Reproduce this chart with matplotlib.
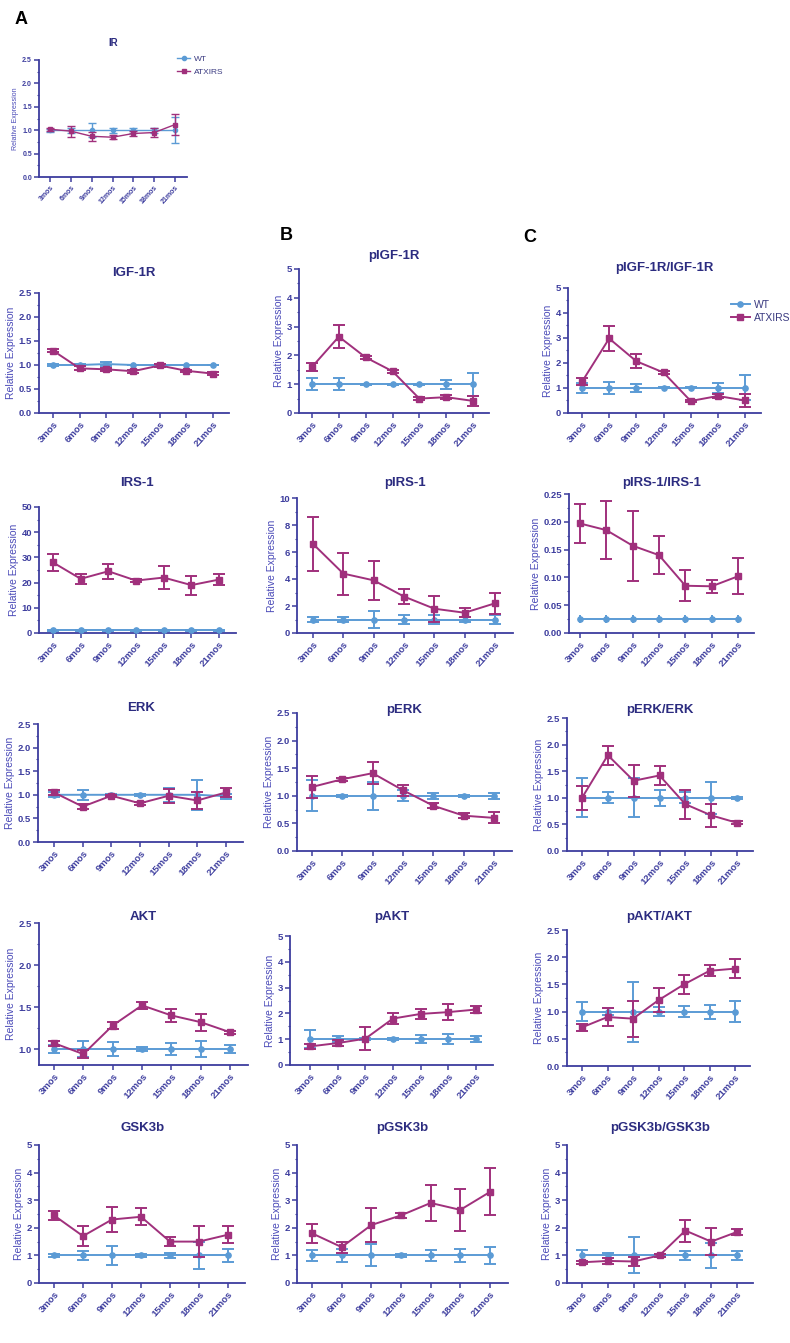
import numpy as np
import matplotlib.pyplot as plt
from matplotlib.ticker import MultipleLocator
from matplotlib.lines import Line2D

plt.rcParams['font.family'] = ['Liberation Sans', 'DejaVu Sans']

W, H = 790, 1343

months = ['3mos', '6mos', '9mos', '12mos', '15mos', '18mos', '21mos']

# --- column A
ir_wt = [1.00, 1.00, 1.00, 1.00, 1.00, 1.00, 1.00]
ir_wt_err = [0.03, 0.05, 0.15, 0.05, 0.05, 0.05, 0.28]
ir_atx = [1.02, 0.98, 0.87, 0.85, 0.93, 0.95, 1.12]
ir_atx_err = [0.03, 0.12, 0.10, 0.04, 0.05, 0.10, 0.22]

igf_wt = [1.00, 1.00, 1.02, 1.00, 1.00, 1.00, 1.00]
igf_wt_err = [0.02, 0.02, 0.05, 0.01, 0.02, 0.01, 0.01]
igf_atx = [1.30, 0.93, 0.91, 0.87, 0.99, 0.88, 0.82]
igf_atx_err = [0.03, 0.04, 0.03, 0.03, 0.03, 0.02, 0.03]

irs_wt = [1.0, 1.0, 1.0, 1.0, 1.0, 1.0, 1.0]
irs_wt_err = [0.3, 0.3, 0.3, 0.3, 0.3, 0.3, 0.3]
irs_atx = [28.0, 21.5, 24.5, 20.8, 22.0, 19.0, 21.2]
irs_atx_err = [3.2, 2.0, 3.0, 0.5, 4.5, 3.8, 2.3]

erk_wt = [1.00, 1.00, 1.00, 1.00, 1.00, 1.00, 0.97]
erk_wt_err = [0.05, 0.10, 0.02, 0.02, 0.15, 0.32, 0.05]
erk_atx = [1.05, 0.75, 0.98, 0.82, 0.98, 0.88, 1.05]
erk_atx_err = [0.05, 0.05, 0.02, 0.03, 0.15, 0.18, 0.10]

akt_wt = [1.00, 1.00, 1.00, 1.00, 1.00, 1.00, 1.00]
akt_wt_err = [0.05, 0.10, 0.08, 0.02, 0.07, 0.09, 0.05]
akt_atx = [1.07, 0.94, 1.28, 1.52, 1.40, 1.32, 1.20]
akt_atx_err = [0.03, 0.05, 0.04, 0.04, 0.08, 0.10, 0.02]

gsk_wt = [1.00, 1.00, 1.00, 1.00, 1.00, 1.00, 1.00]
gsk_wt_err = [0.05, 0.15, 0.35, 0.05, 0.10, 0.50, 0.25]
gsk_atx = [2.45, 1.70, 2.30, 2.40, 1.50, 1.50, 1.75]
gsk_atx_err = [0.15, 0.35, 0.45, 0.30, 0.15, 0.55, 0.30]

# --- column B
pigf_wt = [1.00, 1.00, 1.00, 1.00, 1.00, 1.00, 1.00]
pigf_wt_err = [0.20, 0.20, 0.02, 0.02, 0.02, 0.15, 0.40]
pigf_atx = [1.60, 2.65, 1.93, 1.45, 0.50, 0.55, 0.42]
pigf_atx_err = [0.15, 0.40, 0.06, 0.05, 0.05, 0.06, 0.18]

pirs_wt = [1.0, 1.0, 1.0, 1.0, 1.0, 1.0, 1.0]
pirs_wt_err = [0.20, 0.20, 0.60, 0.30, 0.30, 0.15, 0.30]
pirs_atx = [6.6, 4.4, 3.9, 2.7, 1.8, 1.5, 2.2]
pirs_atx_err = [2.0, 1.55, 1.45, 0.55, 0.95, 0.35, 0.80]

perk_wt = [1.00, 1.00, 1.00, 1.00, 1.00, 1.00, 1.00]
perk_wt_err = [0.28, 0.02, 0.25, 0.10, 0.05, 0.02, 0.05]
perk_atx = [1.16, 1.30, 1.41, 1.10, 0.82, 0.64, 0.60]
perk_atx_err = [0.20, 0.03, 0.20, 0.10, 0.05, 0.05, 0.10]

pakt_wt = [1.00, 1.00, 1.00, 1.00, 1.00, 1.00, 1.00]
pakt_wt_err = [0.35, 0.12, 0.05, 0.05, 0.15, 0.20, 0.12]
pakt_atx = [0.72, 0.85, 1.02, 1.80, 1.98, 2.05, 2.15]
pakt_atx_err = [0.10, 0.10, 0.45, 0.22, 0.20, 0.30, 0.15]

pgsk_wt = [1.00, 1.00, 1.00, 1.00, 1.00, 1.00, 1.00]
pgsk_wt_err = [0.20, 0.25, 0.40, 0.05, 0.20, 0.25, 0.30]
pgsk_atx = [1.80, 1.30, 2.10, 2.45, 2.90, 2.65, 3.30]
pgsk_atx_err = [0.35, 0.20, 0.60, 0.10, 0.65, 0.75, 0.85]

# --- column C
rigf_wt = [1.00, 1.00, 1.00, 1.00, 1.00, 1.00, 1.00]
rigf_wt_err = [0.20, 0.25, 0.15, 0.02, 0.02, 0.20, 0.50]
rigf_atx = [1.25, 2.98, 2.07, 1.62, 0.48, 0.68, 0.50]
rigf_atx_err = [0.15, 0.50, 0.27, 0.05, 0.05, 0.07, 0.25]

rirs_wt = [0.025, 0.025, 0.025, 0.025, 0.025, 0.025, 0.025]
rirs_wt_err = [0.007, 0.007, 0.007, 0.007, 0.007, 0.007, 0.007]
rirs_atx = [0.197, 0.185, 0.157, 0.140, 0.085, 0.084, 0.102]
rirs_atx_err = [0.035, 0.052, 0.063, 0.034, 0.028, 0.012, 0.032]

rerk_wt = [1.00, 1.00, 1.00, 1.00, 1.00, 1.00, 1.00]
rerk_wt_err = [0.37, 0.10, 0.37, 0.15, 0.10, 0.30, 0.02]
rerk_atx = [1.00, 1.80, 1.32, 1.42, 0.88, 0.67, 0.53]
rerk_atx_err = [0.22, 0.18, 0.30, 0.17, 0.27, 0.22, 0.03]

rakt_wt = [1.00, 1.00, 1.00, 1.00, 1.00, 1.00, 1.00]
rakt_wt_err = [0.18, 0.07, 0.55, 0.08, 0.10, 0.13, 0.20]
rakt_atx = [0.71, 0.90, 0.87, 1.21, 1.50, 1.75, 1.79]
rakt_atx_err = [0.07, 0.17, 0.33, 0.22, 0.18, 0.10, 0.18]

rgsk_wt = [1.00, 1.00, 1.00, 1.00, 1.00, 1.00, 1.00]
rgsk_wt_err = [0.20, 0.10, 0.65, 0.05, 0.15, 0.45, 0.15]
rgsk_atx = [0.75, 0.80, 0.78, 1.00, 1.90, 1.50, 1.85]
rgsk_atx_err = [0.05, 0.10, 0.15, 0.05, 0.40, 0.50, 0.10]

BLUE = '#5b9bd5'
MAG = '#a0307c'
AXC = '#3d3d9e'
TXT = '#2c2c80'

fig = plt.figure(figsize=(W / 100, H / 100), dpi=100)


def draw(title, wt, wt_err, atx, atx_err, box, ylim, major, minor, title_y, fmt='%.1f', small=False, wt_cap=None):
    # box = (axis left, first tick, last tick, top, bottom) in pixels
    x0, t0, t1, top, bot = box
    sp = (t1 - t0) / 6
    right = t1 + 0.6 * sp
    ax = fig.add_axes([x0 / W, 1 - bot / H, (right - x0) / W, (bot - top) / H])
    x = np.arange(len(months))
    fs = 5 if small else 6.8
    lw = 1.0 if small else 1.4
    cap = 3 if small else 4.2
    ax.errorbar(x, wt, yerr=wt_err, color=BLUE, marker='o', ms=3 if small else 3.8,
                lw=lw, elinewidth=lw, capsize=cap if wt_cap is None else wt_cap, capthick=lw, zorder=3)
    ax.errorbar(x, atx, yerr=atx_err, color=MAG, marker='s', ms=3.2 if small else 4.2,
                lw=lw, elinewidth=lw, capsize=cap, capthick=lw, zorder=4)
    ax.set_xlim(-(t0 - x0) / sp, 6.6)
    ax.set_ylim(ylim)
    ax.yaxis.set_major_locator(MultipleLocator(major))
    ax.yaxis.set_minor_locator(MultipleLocator(minor))
    ax.yaxis.set_major_formatter(plt.FormatStrFormatter(fmt))
    ax.set_xticks(x)
    ax.set_xticklabels(months, rotation=48, ha='right', rotation_mode='anchor')
    for s in ['top', 'right']:
        ax.spines[s].set_visible(False)
    for s in ['left', 'bottom']:
        ax.spines[s].set_color(AXC)
        ax.spines[s].set_linewidth(1.3)
    ax.tick_params(colors=AXC, labelsize=fs, width=1.1, length=3.5, pad=1.5)
    ax.tick_params(axis='y', which='minor', colors=AXC, width=0.8, length=1.8)
    for lab in ax.get_xticklabels() + ax.get_yticklabels():
        lab.set_fontweight('bold')
    ax.set_ylabel('Relative Expression', color='#4a4ab8', fontsize=5 if small else 7.5, labelpad=2)
    cx = (x0 + right) / 2
    fig.text(cx / W, 1 - title_y / H, title, ha='center', va='center', color=TXT,
             fontsize=7 if small else 9.5, fontweight='bold')
    return ax


ax_ir = draw('IR', ir_wt, ir_wt_err, ir_atx, ir_atx_err, (39, 50, 175, 60, 177), (0, 2.5), 0.5, 0.25, 43, small=True)
draw('IGF-1R', igf_wt, igf_wt_err, igf_atx, igf_atx_err, (39, 53, 213, 293, 413), (0, 2.5), 0.5, 0.25, 273)
draw('pIGF-1R', pigf_wt, pigf_wt_err, pigf_atx, pigf_atx_err, (299, 312, 473, 269, 413), (0, 5), 1, 0.5, 256, fmt='%d')
ax_c = draw('pIGF-1R/IGF-1R', rigf_wt, rigf_wt_err, rigf_atx, rigf_atx_err, (568, 582, 745, 288, 413), (0, 5), 1, 0.5, 268, fmt='%d')

draw('IRS-1', irs_wt, irs_wt_err, irs_atx, irs_atx_err, (39, 53, 219, 507, 633), (0, 50), 10, 5, 483, fmt='%d')
draw('pIRS-1', pirs_wt, pirs_wt_err, pirs_atx, pirs_atx_err, (297, 313, 495, 498, 633), (0, 10), 2, 1, 483, fmt='%d')
draw('pIRS-1/IRS-1', rirs_wt, rirs_wt_err, rirs_atx, rirs_atx_err, (569, 580, 738, 494, 633), (0, 0.25), 0.05, 0.025, 483,
     fmt='%.2f', wt_cap=0)

draw('ERK', erk_wt, erk_wt_err, erk_atx, erk_atx_err, (38, 54, 226, 724, 842), (0, 2.5), 0.5, 0.25, 708)
draw('pERK', perk_wt, perk_wt_err, perk_atx, perk_atx_err, (297, 312, 494, 713, 851), (0, 2.5), 0.5, 0.25, 710)
draw('pERK/ERK', rerk_wt, rerk_wt_err, rerk_atx, rerk_atx_err, (567, 582, 737, 718, 851), (0, 2.5), 0.5, 0.25, 710)

draw('AKT', akt_wt, akt_wt_err, akt_atx, akt_atx_err, (39, 54, 230, 923, 1065), (0.81, 2.5), 0.5, 0.25, 917)
draw('pAKT', pakt_wt, pakt_wt_err, pakt_atx, pakt_atx_err, (290, 310, 476, 936, 1065), (0, 5), 1, 0.5, 917, fmt='%d')
draw('pAKT/AKT', rakt_wt, rakt_wt_err, rakt_atx, rakt_atx_err, (567, 582, 735, 930, 1066), (0, 2.5), 0.5, 0.25, 917)

draw('GSK3b', gsk_wt, gsk_wt_err, gsk_atx, gsk_atx_err, (39, 54, 228, 1145, 1283), (0, 5), 1, 0.5, 1128, fmt='%d')
draw('pGSK3b', pgsk_wt, pgsk_wt_err, pgsk_atx, pgsk_atx_err, (297, 312, 490, 1145, 1283), (0, 5), 1, 0.5, 1128, fmt='%d')
draw('pGSK3b/GSK3b', rgsk_wt, rgsk_wt_err, rgsk_atx, rgsk_atx_err, (567, 582, 737, 1145, 1283), (0, 5), 1, 0.5, 1128, fmt='%d')


def handles(ms, lw):
    return [Line2D([], [], color=BLUE, marker='o', ms=ms, lw=lw),
            Line2D([], [], color=MAG, marker='s', ms=ms + 0.4, lw=lw)]


ax_ir.legend(handles(3, 1.0), ['WT', 'ATXIRS'], loc='upper left', bbox_to_anchor=(177 / W, 1 - 55 / H),
             bbox_transform=fig.transFigure, frameon=False, fontsize=6, handlelength=1.6, handletextpad=0.4,
             labelspacing=0.6, labelcolor='#3a3a80', borderaxespad=0, borderpad=0)
ax_c.legend(handles(3.8, 1.4), ['WT', 'ATXIRS'], loc='upper left', bbox_to_anchor=(731 / W, 1 - 300 / H),
            bbox_transform=fig.transFigure, frameon=False, fontsize=7.5, handlelength=1.8, handletextpad=0.4,
            labelspacing=0.3, labelcolor='#3a3a80', borderaxespad=0, borderpad=0)

for letter, lx, ly in [('A', 21, 20), ('B', 286, 236), ('C', 530, 237)]:
    fig.text(lx / W, 1 - ly / H, letter, ha='center', va='center', fontsize=13, fontweight='bold', color='black')

fig.savefig('out.png', dpi=100, facecolor='white')
